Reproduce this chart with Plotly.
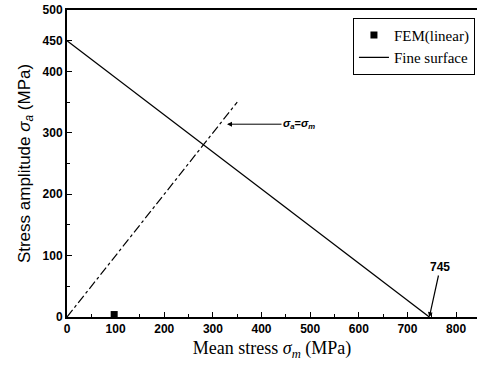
import plotly.graph_objects as go

# Data
fem_x = [97]
fem_y = [4]
fine_x = [0, 745]
fine_y = [450, 0]
eq_x = [0, 350]
eq_y = [0, 350]
x_ticks = [0, 100, 200, 300, 400, 500, 600, 700, 800]
y_ticks = [0, 100, 200, 300, 400, 450, 500]

fig = go.Figure()
fig.add_trace(go.Scatter(x=fem_x, y=fem_y, mode="markers", name="FEM(linear)",
                         marker=dict(symbol="square", size=7, color="black")))
fig.add_trace(go.Scatter(x=fine_x, y=fine_y, mode="lines", name="Fine surface",
                         line=dict(color="black", width=1.3)))
fig.add_trace(go.Scatter(x=eq_x, y=eq_y, mode="lines", showlegend=False,
                         line=dict(color="black", width=1.2, dash="dashdot")))

tickfont = dict(family="Liberation Sans", size=12, color="black")
fig.update_xaxes(range=[0, 843], tickvals=x_ticks, ticktext=[f"<b>{v}</b>" for v in x_ticks],
                 ticks="inside", ticklen=5, tickwidth=1.2, tickcolor="black",
                 minor=dict(dtick=50, tick0=0, ticks="inside", ticklen=3, tickcolor="black"),
                 showline=True, linecolor="black", linewidth=2, mirror=True,
                 showgrid=False, zeroline=False, tickfont=tickfont,
                 title=dict(text="Mean stress <i>σ<sub>m</sub></i> (MPa)",
                            font=dict(family="Liberation Serif", size=18, color="black"),
                            standoff=6))
fig.update_yaxes(range=[0, 500], tickvals=y_ticks, ticktext=[f"<b>{v}</b>" for v in y_ticks],
                 ticks="inside", ticklen=5, tickwidth=1.2, tickcolor="black",
                 minor=dict(dtick=50, tick0=0, ticks="inside", ticklen=3, tickcolor="black"),
                 showline=True, linecolor="black", linewidth=2,
                 showgrid=False, zeroline=False, tickfont=tickfont,
                 title=dict(text="Stress amplitude <i>σ<sub>a</sub></i> (MPa)",
                            font=dict(family="Liberation Sans", size=17, color="black"),
                            standoff=8))

fig.add_annotation(x=329, y=314, ax=72, ay=0, text="<b><i>σ<sub>a</sub></i>=<i>σ<sub>m</sub></i></b>",
                   showarrow=True, arrowhead=2, arrowsize=1, arrowwidth=1, arrowcolor="black",
                   font=dict(family="Liberation Sans", size=11, color="black"))
fig.add_annotation(x=745, y=0, ax=11, ay=-50, text="<b>745</b>",
                   showarrow=True, arrowhead=2, arrowsize=0.8, arrowwidth=1.2, arrowcolor="black",
                   font=dict(family="Liberation Sans", size=12, color="black"))

fig.update_layout(width=478, height=368, margin=dict(l=67, r=1, t=10, b=51),
                  plot_bgcolor="white", paper_bgcolor="white",
                  legend=dict(x=0.995, y=0.975, xanchor="right", yanchor="top",
                              bordercolor="black", borderwidth=1, bgcolor="white",
                              font=dict(family="Liberation Serif", size=15, color="black"),
                              tracegroupgap=0, itemwidth=30))
fig.write_html("out.html")
